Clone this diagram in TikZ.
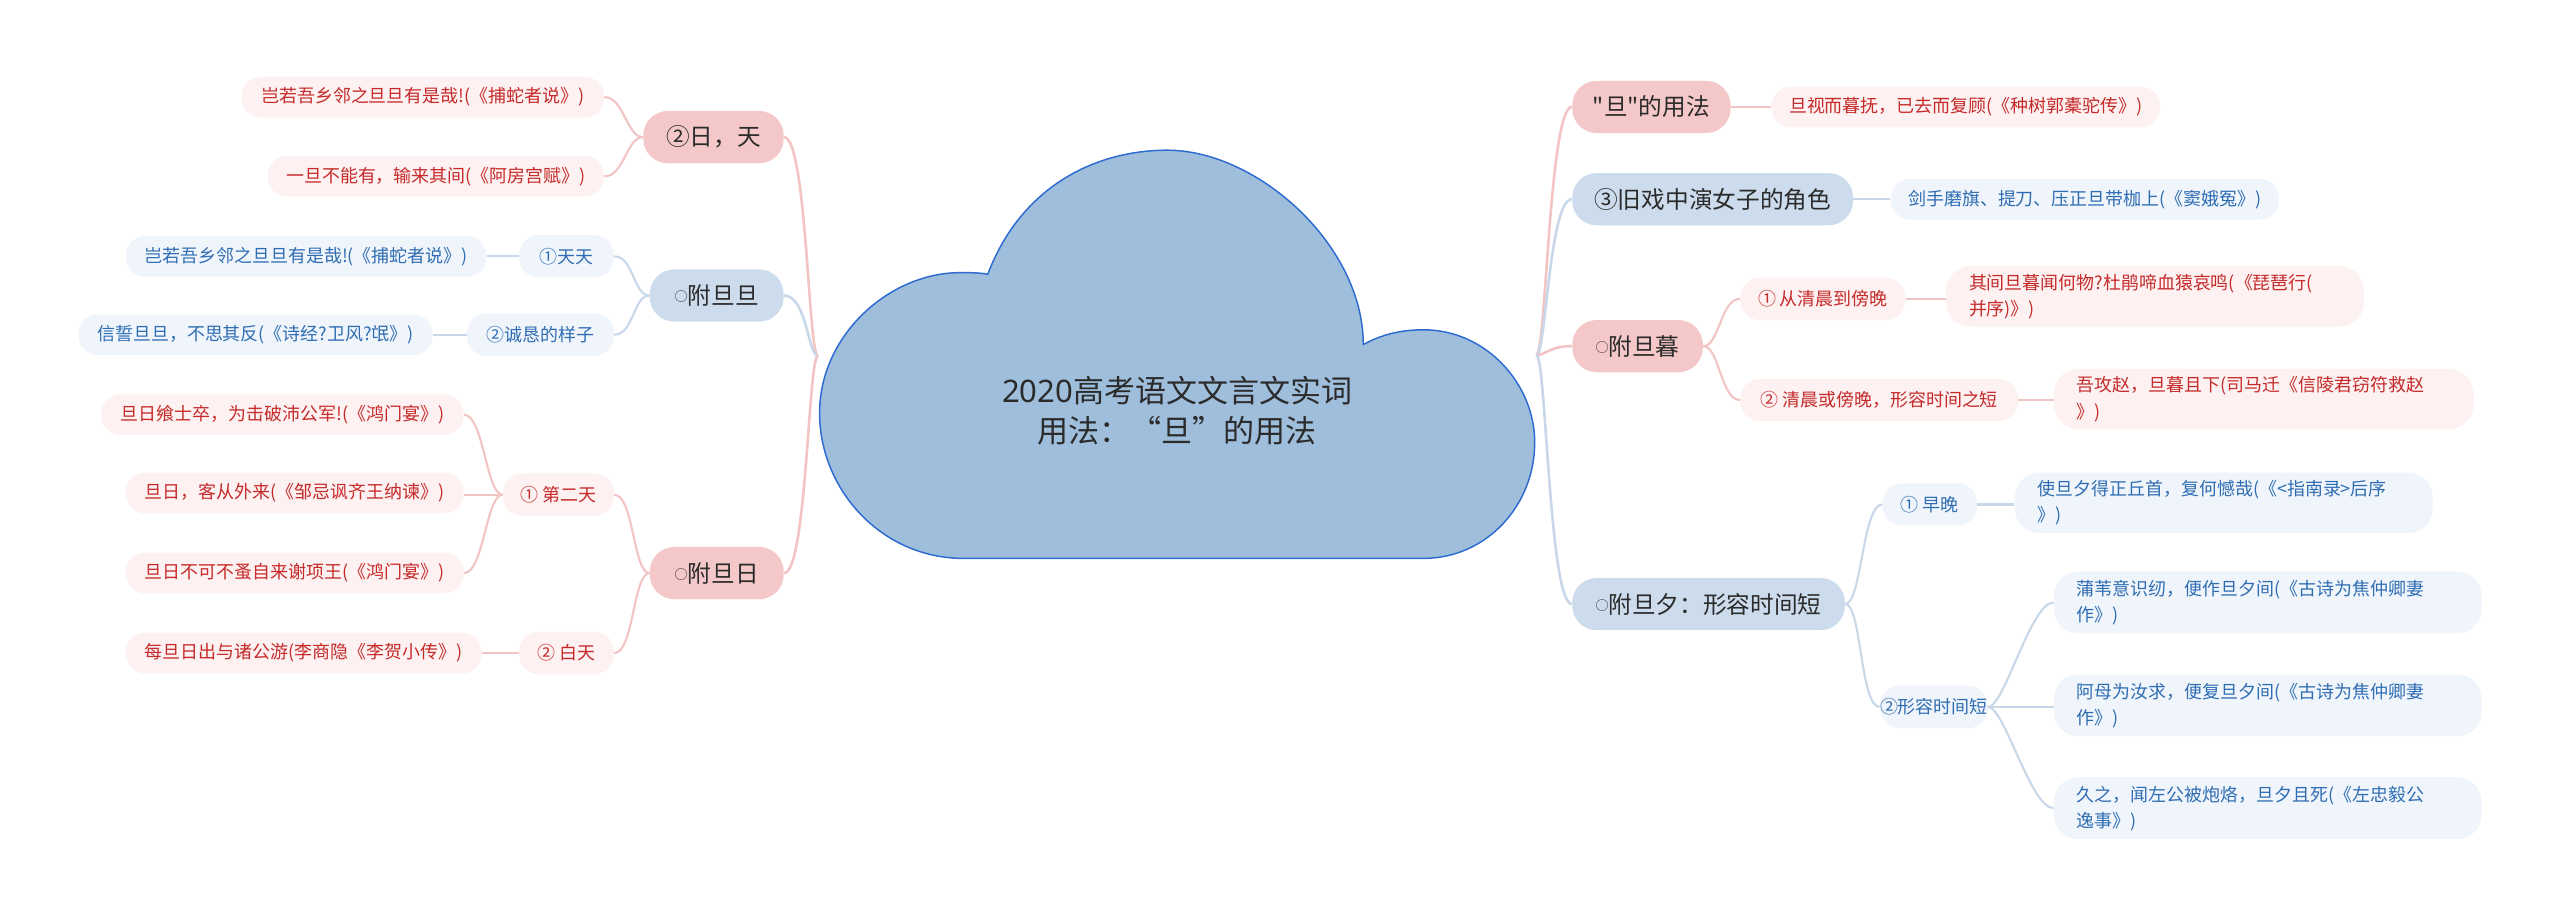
\documentclass[tikz,border=0pt]{standalone}
\usepackage{fontspec}
\setmainfont{Noto Sans CJK SC}
\newfontfamily\cjk{Noto Sans CJK SC}
\newfontfamily\latinfont{Noto Sans}
\newcommand\smallcirc{\raisebox{1.8pt}{\fontsize{8}{8}\selectfont ○}}
\definecolor{pinkM}{HTML}{F4C8C8}
\definecolor{blueM}{HTML}{CCDCEC}
\definecolor{pinkL}{HTML}{FDF1F1}
\definecolor{blueL}{HTML}{F0F5FB}
\definecolor{redT}{HTML}{C62A2A}
\definecolor{blueT}{HTML}{2F6DB3}
\definecolor{pinkC}{HTML}{F2C4C4}
\definecolor{blueC}{HTML}{C8D8E9}
\definecolor{cloudF}{HTML}{9FBEDC}
\definecolor{cloudD}{HTML}{2E6BD0}
\definecolor{textD}{HTML}{2B2B2B}
\tikzset{
  mainbox/.style={rounded corners=15pt, minimum height=32pt, inner xsep=0pt, inner ysep=0pt,
    font=\cjk\fontsize{14.5}{17}\selectfont, text=textD},
  pinkmain/.style={mainbox, fill=pinkM},
  bluemain/.style={mainbox, fill=blueM},
  midbox/.style={rounded corners=12pt, minimum height=26pt, inner xsep=0pt, inner ysep=0pt,
    font=\cjk\fontsize{11}{14}\selectfont},
  pinkmid/.style={midbox, fill=pinkL, text=redT},
  bluemid/.style={midbox, fill=blueL, text=blueT},
  leafbox/.style={rounded corners=12pt, minimum height=25pt, inner xsep=0pt, inner ysep=0pt,
    font=\cjk\fontsize{11}{14}\selectfont},
  pinkleaf/.style={leafbox, fill=pinkL, text=redT},
  blueleaf/.style={leafbox, fill=blueL, text=blueT},
  twoleaf/.style={rounded corners=15pt, minimum height=37pt, inner xsep=14pt, inner ysep=0pt,
    align=left, font=\cjk\fontsize{11}{16}\selectfont},
  pinktwo/.style={twoleaf, fill=pinkL, text=redT},
  bluetwo/.style={twoleaf, fill=blueL, text=blueT},
  pinkline/.style={draw=pinkC, line width=1.6pt},
  blueline/.style={draw=blueC, line width=1.6pt},
  pinksub/.style={draw=pinkC, line width=1.3pt},
  bluesub/.style={draw=blueC, line width=1.3pt},
}
\begin{document}
\begin{tikzpicture}[x=1pt,y=-1pt]
\useasboundingbox (0,0) rectangle (1568,562);
% cloud
\draw[fill=cloudF, draw=cloudD, line width=0.9pt]
  (590,342) .. controls (540,342) and (502,300) .. (502,253)
  .. controls (502,205) and (545,167) .. (588,167)
  .. controls (595,167) and (600,167) .. (605,168)
  .. controls (625,115) and (670,92) .. (715,92)
  .. controls (770,92) and (835,150) .. (835,211)
  .. controls (848,204) and (860,202) .. (872,202)
  .. controls (910,202) and (940,235) .. (940,271)
  .. controls (940,310) and (910,342) .. (872,342)
  -- cycle;
\node[align=center, text=textD, font=\cjk\fontsize{19}{25}\selectfont] (root) at (721,251.5)
  {{\latinfont 2020}高考语文文言文实词\\用法：“旦”的用法};
\coordinate (RL) at (501,218);
\coordinate (RR) at (941,217.5);

% ---------- right side ----------
\node[pinkmain, minimum width=97pt] (n1) at (1011.5,65.5) {"旦"的用法};
\node[pinkleaf, minimum width=238pt] (l1) at (1204,65.5) {旦视而暮抚，已去而复顾(《种树郭橐驼传》)};
\node[bluemain, minimum width=172pt] (n2) at (1049,122) {③旧戏中演女子的角色};
\node[blueleaf, minimum width=238pt] (l2) at (1277,122) {剑手磨旗、提刀、压正旦带枷上(《窦娥冤》)};
\node[pinkmain, minimum width=80pt] (n3) at (1003,212) {\smallcirc 附旦暮};
\node[pinkmid, minimum width=101pt] (m31) at (1116.5,183) {① 从清晨到傍晚};
\node[pinktwo, text width=228pt] (l31) at (1320,181.5) {其间旦暮闻何物?杜鹃啼血猿哀鸣(《琵琶行(\\并序)》)};
\node[pinkmid, minimum width=170pt] (m32) at (1151,245) {② 清晨或傍晚，形容时间之短};
\node[pinktwo, text width=229pt] (l32) at (1386.5,244.5) {吾攻赵，旦暮且下(司马迁《信陵君窃符救赵\\》)};
\node[bluemain, minimum width=167pt] (n4) at (1046.5,370) {\smallcirc 附旦夕：形容时间短};
\node[bluemid, minimum width=58pt] (m41) at (1182,309) {① 早晚};
\node[bluetwo, text width=228pt] (l41) at (1362,308) {使旦夕得正丘首，复何憾哉(《<指南录>后序\\》)};
\node[bluemid, minimum width=63pt] (m42) at (1184.5,433) {②形容时间短};
\node[bluetwo, text width=234pt, minimum height=38pt] (l42a) at (1389,369) {蒲苇意识纫，便作旦夕间(《古诗为焦仲卿妻\\作》)};
\node[bluetwo, text width=234pt, minimum height=38pt] (l42b) at (1389,432) {阿母为汝求，便复旦夕间(《古诗为焦仲卿妻\\作》)};
\node[bluetwo, text width=234pt, minimum height=38pt] (l42c) at (1389,495) {久之，闻左公被炮烙，旦夕且死(《左忠毅公\\逸事》)};

% ---------- left side ----------
\node[pinkmain, minimum width=86pt] (n5) at (437,84) {②日，天};
\node[pinkleaf, minimum width=222pt] (l51) at (259,59.5) {岂若吾乡邻之旦旦有是哉!(《捕蛇者说》)};
\node[pinkleaf, minimum width=206pt] (l52) at (267,108) {一旦不能有，输来其间(《阿房宫赋》)};
\node[bluemain, minimum width=82pt] (n6) at (439,181) {\smallcirc 附旦旦};
\node[bluemid, minimum width=58pt] (m61) at (347,157) {①天天};
\node[blueleaf, minimum width=221pt] (l61) at (187.5,157) {岂若吾乡邻之旦旦有是哉!(《捕蛇者说》)};
\node[bluemid, minimum width=90pt] (m62) at (331,205) {②诚恳的样子};
\node[blueleaf, minimum width=217pt] (l62) at (156.5,205) {信誓旦旦，不思其反(《诗经?卫风?氓》)};
\node[pinkmain, minimum width=82pt] (n7) at (439,351) {\smallcirc 附旦日};
\node[pinkmid, minimum width=68pt] (m71) at (342,303) {① 第二天};
\node[pinkleaf, minimum width=222pt] (l71a) at (173,254) {旦日飨士卒，为击破沛公军!(《鸿门宴》)};
\node[pinkleaf, minimum width=207pt] (l71b) at (180.5,302) {旦日，客从外来(《邹忌讽齐王纳谏》)};
\node[pinkleaf, minimum width=207pt] (l71c) at (180.5,351) {旦日不可不蚤自来谢项王(《鸿门宴》)};
\node[pinkmid, minimum width=58pt] (m72) at (347,400) {② 白天};
\node[pinkleaf, minimum width=218pt] (l72) at (186,400) {每旦日出与诸公游(李商隐《李贺小传》)};

% ---------- connectors: root ----------
\draw[pinkline] (RR) .. controls +(6,0) and +(-14,0) .. (n1.west);
\draw[blueline] (RR) .. controls +(6,0) and +(-14,0) .. (n2.west);
\draw[pinkline] (RR) .. controls +(6,0) and +(-14,0) .. (n3.west);
\draw[blueline] (RR) .. controls +(6,0) and +(-14,0) .. (n4.west);
\draw[pinkline] (RL) .. controls +(-6,0) and +(14,0) .. (n5.east);
\draw[blueline] (RL) .. controls +(-6,0) and +(14,0) .. (n6.east);
\draw[pinkline] (RL) .. controls +(-6,0) and +(14,0) .. (n7.east);

% ---------- connectors: right ----------
\draw[pinksub] (n1.east) -- (n1.east -| l1.west);
\draw[bluesub] (n2.east) -- (n2.east -| l2.west);
\draw[pinksub] (n3.east) .. controls +(10,0) and +(-12,0) .. (m31.west);
\draw[pinksub] (n3.east) .. controls +(10,0) and +(-12,0) .. (m32.west);
\draw[pinksub] (m31.east) -- (m31.east -| l31.west);
\draw[pinksub] (m32.east) -- (m32.east -| l32.west);
\draw[bluesub] (n4.east) .. controls +(10,0) and +(-12,0) .. (m41.west);
\draw[bluesub] (n4.east) .. controls +(10,0) and +(-12,0) .. (m42.west);
\draw[bluesub] (m41.east) -- (m41.east -| l41.west);
\draw[bluesub] (m42.east) .. controls +(10,0) and +(-14,0) .. (l42a.west);
\draw[bluesub] (m42.east) -- (m42.east -| l42b.west);
\draw[bluesub] (m42.east) .. controls +(10,0) and +(-14,0) .. (l42c.west);

% ---------- connectors: left ----------
\draw[pinksub] (n5.west) .. controls +(-10,0) and +(12,0) .. (l51.east);
\draw[pinksub] (n5.west) .. controls +(-10,0) and +(12,0) .. (l52.east);
\draw[bluesub] (n6.west) .. controls +(-10,0) and +(12,0) .. (m61.east);
\draw[bluesub] (n6.west) .. controls +(-10,0) and +(12,0) .. (m62.east);
\draw[bluesub] (m61.west) -- (m61.west -| l61.east);
\draw[bluesub] (m62.west) -- (m62.west -| l62.east);
\draw[pinksub] (n7.west) .. controls +(-10,0) and +(12,0) .. (m71.east);
\draw[pinksub] (n7.west) .. controls +(-10,0) and +(12,0) .. (m72.east);
\draw[pinksub] (m71.west) .. controls +(-10,0) and +(12,0) .. (l71a.east);
\draw[pinksub] (m71.west) -- (m71.west -| l71b.east);
\draw[pinksub] (m71.west) .. controls +(-10,0) and +(12,0) .. (l71c.east);
\draw[pinksub] (m72.west) -- (m72.west -| l72.east);
\end{tikzpicture}
\end{document}
